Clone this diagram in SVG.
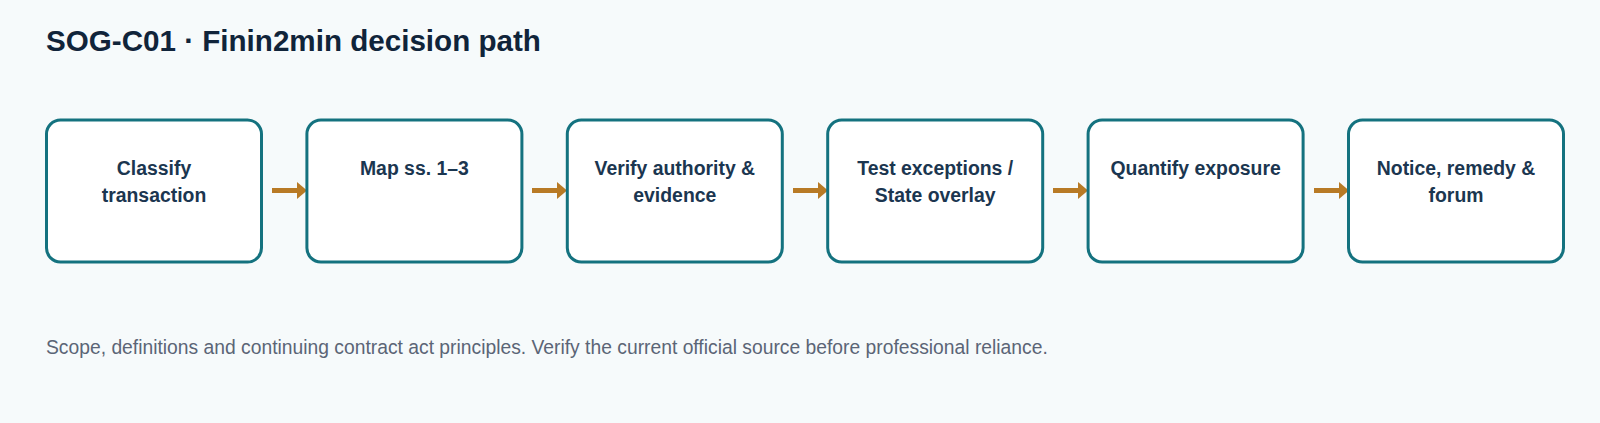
<svg xmlns="http://www.w3.org/2000/svg" width="1600" height="423" viewBox="0 0 1600 423">
<defs>
<style>
.bg{fill:#f6fafb}
.title{font-family:"Liberation Sans",Arial,sans-serif;font-weight:bold;font-size:29.6px;fill:#10243a}
.box{fill:#ffffff;stroke:#14727f;stroke-width:3}
.lbl{font-family:"Liberation Sans",Arial,sans-serif;font-weight:bold;font-size:19.4px;fill:#1b3650;text-anchor:middle}
.conn{stroke:#b87a25;stroke-width:5;fill:none}
.head{fill:#b87a25}
.foot{font-family:"Liberation Sans",Arial,sans-serif;font-size:19.3px;fill:#5b6576}
</style>
</defs>
<rect class="bg" x="0" y="0" width="1600" height="423"/>
<text class="title" x="46" y="51">SOG-C01 · Finin2min decision path</text>
<g id="connectors">
<line class="conn" x1="272" y1="190.5" x2="298" y2="190.5"/><polygon class="head" points="297,182 307,190.5 297,199"/>
<line class="conn" x1="532" y1="190.5" x2="558" y2="190.5"/><polygon class="head" points="557,182 567,190.5 557,199"/>
<line class="conn" x1="793" y1="190.5" x2="819" y2="190.5"/><polygon class="head" points="818,182 828,190.5 818,199"/>
<line class="conn" x1="1053" y1="190.5" x2="1079" y2="190.5"/><polygon class="head" points="1078,182 1088,190.5 1078,199"/>
<line class="conn" x1="1314" y1="190.5" x2="1340" y2="190.5"/><polygon class="head" points="1339,182 1349,190.5 1339,199"/>
</g>
<g id="n1"><rect class="box" x="46.5" y="120" width="215" height="142" rx="14"/><text class="lbl" x="154" y="175">Classify</text><text class="lbl" x="154" y="202">transaction</text></g>
<g id="n2"><rect class="box" x="306.9" y="120" width="215" height="142" rx="14"/><text class="lbl" x="414.4" y="175">Map ss. 1–3</text></g>
<g id="n3"><rect class="box" x="567.3" y="120" width="215" height="142" rx="14"/><text class="lbl" x="674.8" y="175">Verify authority &amp;</text><text class="lbl" x="674.8" y="202">evidence</text></g>
<g id="n4"><rect class="box" x="827.7" y="120" width="215" height="142" rx="14"/><text class="lbl" x="935.2" y="175">Test exceptions /</text><text class="lbl" x="935.2" y="202">State overlay</text></g>
<g id="n5"><rect class="box" x="1088.1" y="120" width="215" height="142" rx="14"/><text class="lbl" x="1195.6" y="175">Quantify exposure</text></g>
<g id="n6"><rect class="box" x="1348.5" y="120" width="215" height="142" rx="14"/><text class="lbl" x="1456" y="175">Notice, remedy &amp;</text><text class="lbl" x="1456" y="202">forum</text></g>
<text class="foot" x="46" y="354">Scope, definitions and continuing contract act principles. Verify the current official source before professional reliance.</text>
</svg>
